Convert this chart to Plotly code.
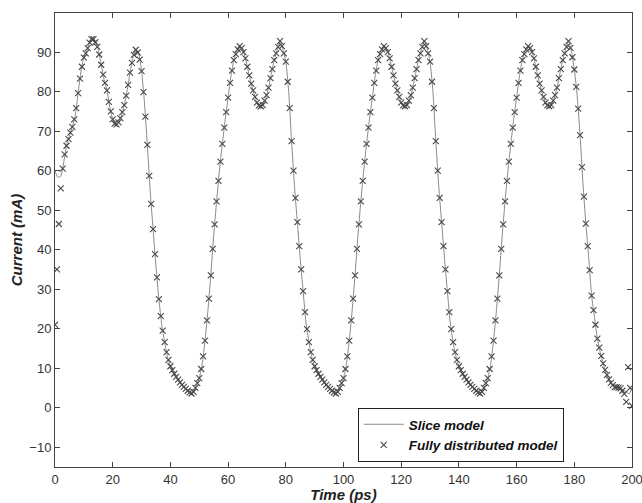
import plotly.graph_objects as go

# ---- data ----
# Slice model (line), sampled every 1 ps from 0 to 200 ps
slice_time = list(range(0, 201))
slice_current = [
    60.0, 58.3, 58.6, 62.0, 66.3, 68.8, 71.1, 73.9, 79.6, 85.2,
    88.6, 90.3, 92.4, 93.7, 92.5, 90.7, 86.8, 83.1, 80.3, 76.0,
    73.0, 71.4, 72.2, 73.9, 76.6, 80.2, 84.8, 88.6, 90.6, 89.6,
    85.2, 77.3, 66.5, 54.8, 45.2, 35.8, 27.5, 21.0, 16.6, 12.9,
    10.5, 9.0, 7.8, 6.7, 5.8, 5.0, 4.3, 3.7, 4.0, 5.5,
    7.5, 11.0, 17.0, 24.6, 33.5, 43.5, 52.2, 60.0, 66.8, 73.0,
    78.5, 84.0, 88.0, 90.3, 91.5, 90.8, 88.4, 85.2, 82.0, 79.4,
    77.2, 76.1, 76.6, 78.2, 81.0, 84.6, 88.0, 90.6, 92.8, 90.8,
    87.6, 80.0, 67.5, 56.2, 47.0, 37.8, 29.5, 21.6, 16.6, 12.9,
    10.5, 9.0, 7.8, 6.7, 5.8, 5.0, 4.3, 3.7, 4.0, 5.5,
    7.5, 11.0, 17.0, 24.6, 33.5, 43.5, 52.2, 60.0, 66.8, 73.0,
    78.5, 84.0, 88.0, 90.3, 91.5, 90.8, 88.4, 85.2, 82.0, 79.4,
    77.2, 76.1, 76.6, 78.2, 81.0, 84.6, 88.0, 90.6, 92.8, 90.8,
    87.6, 80.0, 67.5, 56.2, 47.0, 37.8, 29.5, 21.6, 16.6, 12.9,
    10.5, 9.0, 7.8, 6.7, 5.8, 5.0, 4.3, 3.7, 4.0, 5.5,
    7.5, 11.0, 17.0, 24.6, 33.5, 43.5, 52.2, 60.0, 66.8, 73.0,
    78.5, 84.0, 88.0, 90.3, 91.5, 90.8, 88.4, 85.2, 82.0, 79.4,
    77.2, 76.1, 76.6, 78.2, 81.0, 84.6, 88.0, 90.6, 92.8, 90.2,
    85.6, 79.0, 69.0, 56.8, 46.6, 38.0, 28.4, 22.8, 17.5, 14.0,
    11.2, 8.8, 7.2, 5.9, 5.2, 5.2, 4.9, 4.5, 4.0, 3.5,
    5.0,
]

# Fully distributed model (markers), one sample every 2/3 ps
n_marks = 301
marker_time = [k * 200.0 / (n_marks - 1) for k in range(n_marks)]
distributed_current = [
    21.0, 35.0, 46.5, 55.5, 60.5, 64.1, 66.3, 68.0, 69.6, 71.1, 73.0, 75.8,
    79.6, 83.3, 86.3, 88.6, 89.7, 91.0, 92.4, 93.3, 93.3, 92.5, 91.3, 89.4,
    86.8, 84.3, 82.2, 80.3, 77.4, 75.0, 73.0, 71.9, 71.7, 72.2, 73.3, 74.8,
    76.6, 79.0, 81.7, 84.8, 87.3, 89.3, 90.6, 89.9, 88.1, 85.2, 79.9, 73.7,
    66.5, 58.7, 51.6, 45.2, 38.9, 33.0, 27.5, 23.2, 19.5, 16.6, 14.1, 12.1,
    10.5, 9.5, 8.6, 7.8, 7.1, 6.4, 5.8, 5.3, 4.8, 4.3, 3.9, 3.6,
    4.0, 5.0, 6.2, 7.5, 9.8, 13.0, 17.0, 22.1, 27.6, 33.5, 40.2, 46.4,
    52.2, 57.4, 62.3, 66.8, 70.9, 74.8, 78.5, 82.2, 85.3, 88.0, 89.5, 90.7,
    91.5, 91.0, 90.0, 88.4, 86.3, 84.1, 82.0, 80.3, 78.7, 77.2, 76.5, 76.3,
    76.6, 77.7, 79.1, 81.0, 83.4, 85.7, 88.0, 89.7, 91.3, 92.8, 91.5, 89.7,
    87.6, 82.5, 75.8, 67.5, 60.0, 53.1, 47.0, 40.9, 35.0, 29.5, 24.2, 19.9,
    16.6, 14.1, 12.1, 10.5, 9.5, 8.6, 7.8, 7.1, 6.4, 5.8, 5.3, 4.8,
    4.3, 3.9, 3.6,
    4.0, 5.0, 6.2, 7.5, 9.8, 13.0, 17.0, 22.1, 27.6, 33.5, 40.2, 46.4,
    52.2, 57.4, 62.3, 66.8, 70.9, 74.8, 78.5, 82.2, 85.3, 88.0, 89.5, 90.7,
    91.5, 91.0, 90.0, 88.4, 86.3, 84.1, 82.0, 80.3, 78.7, 77.2, 76.5, 76.3,
    76.6, 77.7, 79.1, 81.0, 83.4, 85.7, 88.0, 89.7, 91.3, 92.8, 91.5, 89.7,
    87.6, 82.5, 75.8, 67.5, 60.0, 53.1, 47.0, 40.9, 35.0, 29.5, 24.2, 19.9,
    16.6, 14.1, 12.1, 10.5, 9.5, 8.6, 7.8, 7.1, 6.4, 5.8, 5.3, 4.8,
    4.3, 3.9, 3.6,
    4.0, 5.0, 6.2, 7.5, 9.8, 13.0, 17.0, 22.1, 27.6, 33.5, 40.2, 46.4,
    52.2, 57.4, 62.3, 66.8, 70.9, 74.8, 78.5, 82.2, 85.3, 88.0, 89.5, 90.7,
    91.5, 91.0, 90.0, 88.4, 86.3, 84.1, 82.0, 80.3, 78.7, 77.2, 76.5, 76.3,
    76.6, 77.7, 79.1, 81.0, 83.4, 85.7, 88.0, 89.7, 91.3,
    92.8, 91.1, 88.7, 85.6, 81.2, 75.7, 69.0, 60.9, 53.4, 46.6, 40.9, 34.8,
    28.4, 24.7, 21.0, 17.5, 15.2, 13.1, 11.2, 9.6, 8.3, 7.2, 6.3, 5.7,
    5.2, 5.2, 5.1, 4.9, 4.3, 3.5, 1.5, 10.3, 5.0, 0.5,
]

x_ticks = [0, 20, 40, 60, 80, 100, 120, 140, 160, 180, 200]
y_ticks = [-10, 0, 10, 20, 30, 40, 50, 60, 70, 80, 90]

FONT = "Liberation Sans, Arial, Helvetica, sans-serif"

fig = go.Figure()
fig.add_trace(go.Scatter(
    x=slice_time, y=slice_current, mode="lines",
    name="<b><i>Slice model</i></b>",
    line=dict(color="#8a8a8a", width=1, shape="spline", smoothing=0.6),
))
fig.add_trace(go.Scatter(
    x=marker_time, y=distributed_current[:len(marker_time)], mode="markers",
    name="<b><i>Fully distributed model</i></b>",
    marker=dict(symbol="x-thin", size=6, line=dict(color="#4a4a4a", width=1.1)),
))

axis_common = dict(
    showline=True, linecolor="#444444", linewidth=1, mirror="ticks",
    ticks="inside", ticklen=5, tickcolor="#444444", showgrid=False,
    zeroline=False, automargin=False, ticklabeloverflow="allow",
    tickfont=dict(family=FONT, size=13, color="#333333"),
)
fig.update_xaxes(range=[0, 200], tickvals=x_ticks, **axis_common,
                 title=dict(text="<b><i>Time (ps)</i></b>", standoff=2,
                            font=dict(family=FONT, size=15, color="#222222")))
fig.update_yaxes(range=[-15, 99.9], tickvals=y_ticks, **axis_common,
                 title=dict(text="<b><i>Current (mA)</i></b>", standoff=3,
                            font=dict(family=FONT, size=15, color="#222222")))

fig.update_layout(
    width=642, height=503,
    margin=dict(l=55, r=10, t=13, b=36),
    plot_bgcolor="white", paper_bgcolor="white",
    legend=dict(
        x=0.5247, y=0.13, xanchor="left", yanchor="top",
        bgcolor="white", bordercolor="#222222", borderwidth=1,
        font=dict(family=FONT, size=13.5, color="#111111"),
        itemwidth=40, tracegroupgap=0,
    ),
)

fig.write_html(
    "out.html",
    config={"displayModeBar": False},
    post_script="document.body.style.margin='0px';document.body.style.overflow='hidden';",
)
